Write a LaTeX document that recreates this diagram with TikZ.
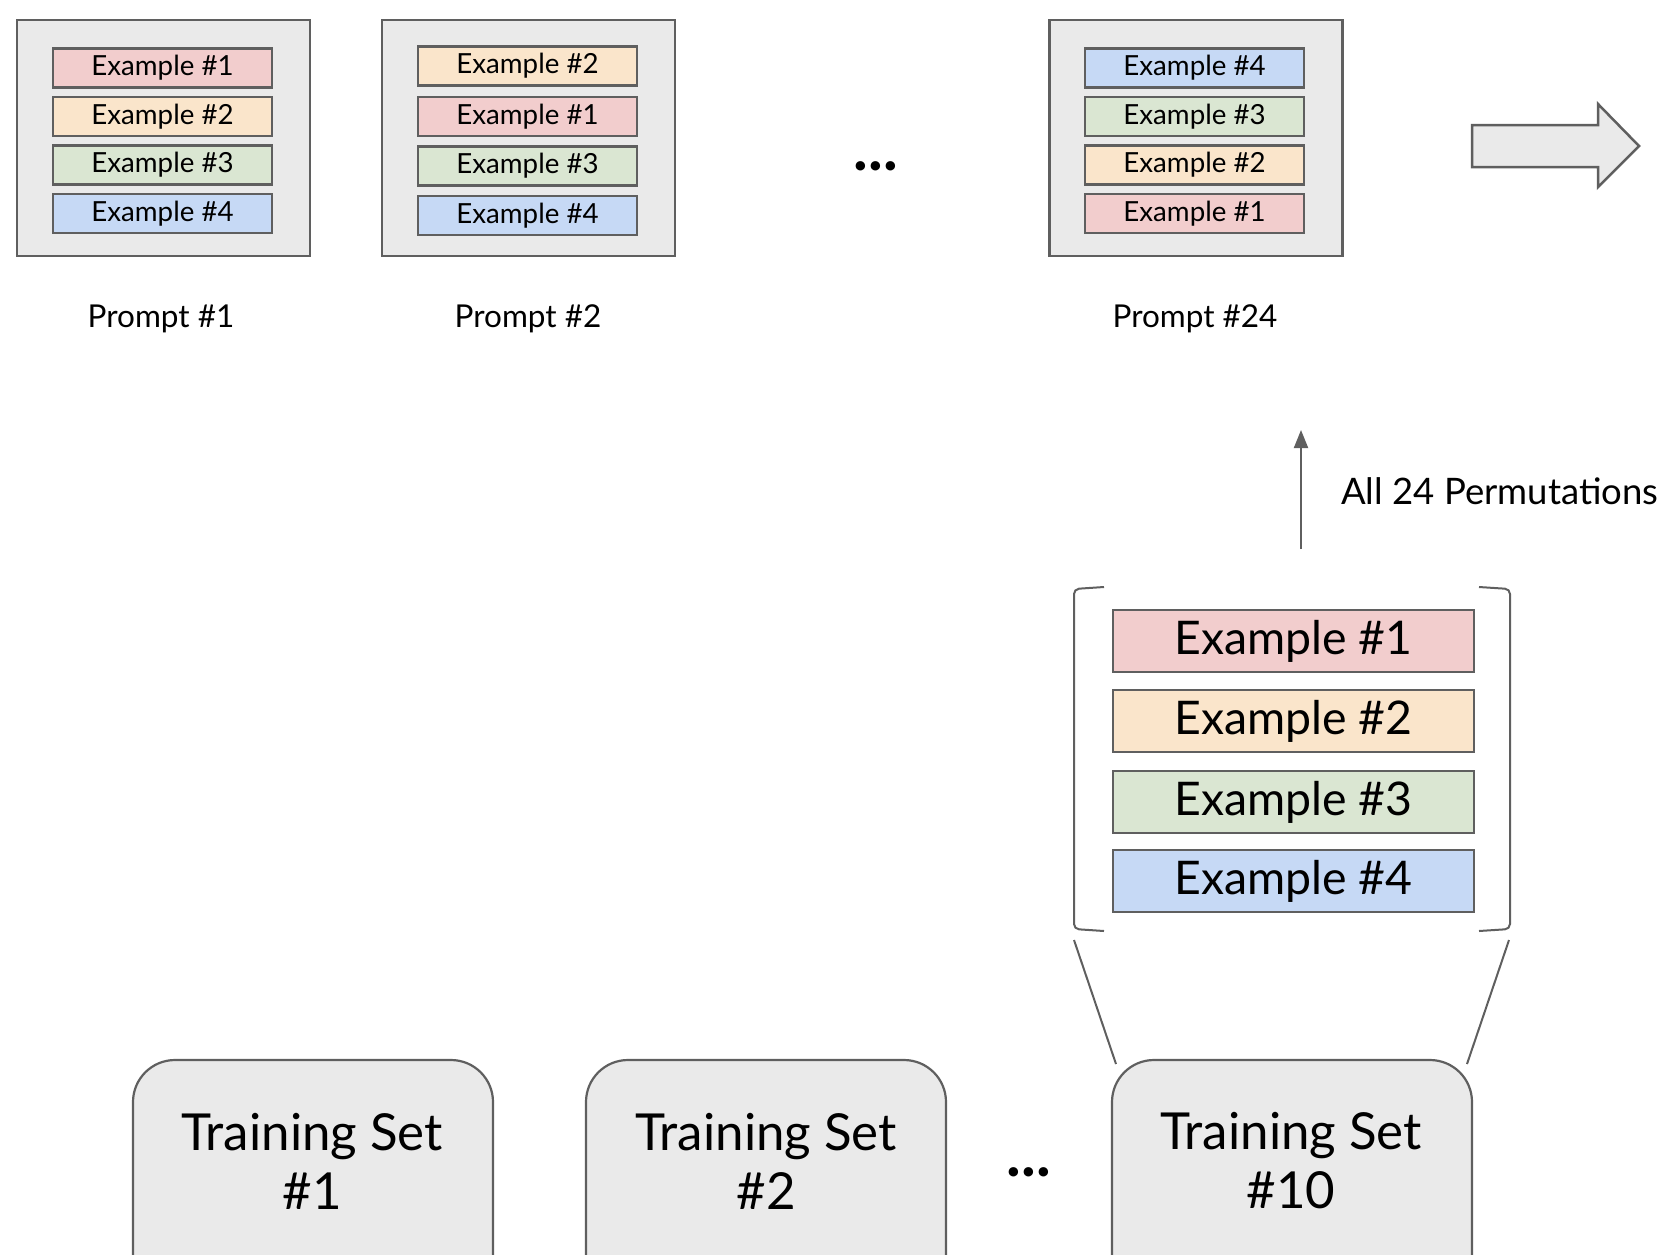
\documentclass[tikz,border=0pt]{standalone}
\usepackage{fontspec}
\setmainfont{Lato}
\usetikzlibrary{arrows.meta}
\definecolor{exred}{HTML}{F2CDCD}
\definecolor{exorange}{HTML}{FAE5CB}
\definecolor{exgreen}{HTML}{DAE6D2}
\definecolor{exblue}{HTML}{C6D9F5}
\definecolor{boxgray}{HTML}{EAEAEA}
\definecolor{linegray}{HTML}{5F5F5F}
\tikzset{
  promptbox/.style={draw=linegray, line width=2.5pt, fill=boxgray, minimum width=293pt, minimum height=236pt, inner sep=0pt},
  smallex/.style={draw=linegray, line width=2.5pt, minimum width=219pt, minimum height=39pt, inner sep=0pt, font=\fontsize{27.7}{32}\selectfont},
  bigex/.style={draw=linegray, line width=2.5pt, minimum width=361pt, minimum height=62pt, inner sep=0pt, font=\fontsize{46.4}{54}\selectfont},
  plabel/.style={font=\fontsize{31.5}{36}\selectfont, inner sep=0pt},
  permlabel/.style={font=\fontsize{36.5}{42}\selectfont, inner sep=0pt},
  trainbox/.style={draw=linegray, line width=2.2pt, fill=boxgray, rounded corners=42pt, minimum width=360pt, minimum height=300pt, inner sep=0pt},
  traintext/.style={font=\fontsize{51}{59}\selectfont, align=center, inner sep=0pt},
  gline/.style={draw=linegray, line width=2pt},
  dots/.style={font=\fontsize{62}{62}\selectfont\bfseries, inner sep=0pt}
}
\begin{document}
\begin{tikzpicture}[x=1pt,y=-1pt]
\useasboundingbox (0,0) rectangle (1665,1254);
\clip (0,0) rectangle (1665,1254);
% Prompt 1
\node[promptbox] (p1) at (163.5,138) {};
\node[smallex, fill=exred]    (p1a) at (162.5,68)    {Example \#1};
\node[smallex, fill=exorange] (p1b) at (162.5,116.5) {Example \#2};
\node[smallex, fill=exgreen]  (p1c) at (162.5,165)   {Example \#3};
\node[smallex, fill=exblue]   (p1d) at (162.5,213.5) {Example \#4};
\node[plabel] (l1) at (161,319) {Prompt \#1};
% Prompt 2
\node[promptbox] (p2) at (528.5,138) {};
\node[smallex, fill=exorange] (p2a) at (527.5,66)    {Example \#2};
\node[smallex, fill=exred]    (p2b) at (527.5,116.5) {Example \#1};
\node[smallex, fill=exgreen]  (p2c) at (527.5,166)   {Example \#3};
\node[smallex, fill=exblue]   (p2d) at (527.5,215.5) {Example \#4};
\node[plabel] (l2) at (528,319) {Prompt \#2};
% dots
\node[dots] (topdots) at (876,166) {...};
% Prompt 24
\node[promptbox] (p24) at (1196,138) {};
\node[smallex, fill=exblue]   (p24a) at (1194.5,68)    {Example \#4};
\node[smallex, fill=exgreen]  (p24b) at (1194.5,116.5) {Example \#3};
\node[smallex, fill=exorange] (p24c) at (1194.5,165)   {Example \#2};
\node[smallex, fill=exred]    (p24d) at (1194.5,213.5) {Example \#1};
\node[plabel] (l24) at (1195,319) {Prompt \#24};
% big arrow
\draw[draw=linegray, line width=2.5pt, fill=boxgray, line join=miter]
  (1472,125) -- (1598,125) -- (1598,104) -- (1639,146) -- (1598,187) -- (1598,167) -- (1472,167) -- cycle;
% permutation arrow
\coordinate (arrS) at (1301,549);
\coordinate (arrE) at (1301,430);
\draw[gline, -{Triangle[length=18pt,width=14pt]}] (arrS) -- (arrE);
\node[permlabel, anchor=west] (perm) at (1341,491) {All 24 Permutations};
% bracket group
\node[bigex, fill=exred]    (b1) at (1293.5,641) {Example \#1};
\node[bigex, fill=exorange] (b2) at (1293.5,721) {Example \#2};
\node[bigex, fill=exgreen]  (b3) at (1293.5,802) {Example \#3};
\node[bigex, fill=exblue]   (b4) at (1293.5,881) {Example \#4};
\draw[gline, rounded corners=5pt] (1104,587) -- (1074,589) -- (1074,929) -- (1104,931);
\draw[gline, rounded corners=5pt] (1479,587) -- (1510,589) -- (1510,929) -- (1479,931);
% training sets
\node[trainbox] (t1) at (313,1210) {};
\node[traintext] (t1t) at (312,1161) {Training Set\\\#1};
\node[trainbox] (t2) at (766,1210) {};
\node[traintext] (t2t) at (766,1161) {Training Set\\\#2};
\node[trainbox] (t10) at (1292,1210) {};
\node[traintext] (t10t) at (1291,1161) {Training Set\\\#10};
\node[dots] (botdots) at (1029,1172) {...};
% connecting lines
\coordinate (bl) at (1074,940);
\coordinate (br) at (1509,940);
\coordinate (tl) at (1116,1064);
\coordinate (tr) at (1467,1064);
\draw[gline] (bl) -- (tl);
\draw[gline] (br) -- (tr);
\end{tikzpicture}
\end{document}
